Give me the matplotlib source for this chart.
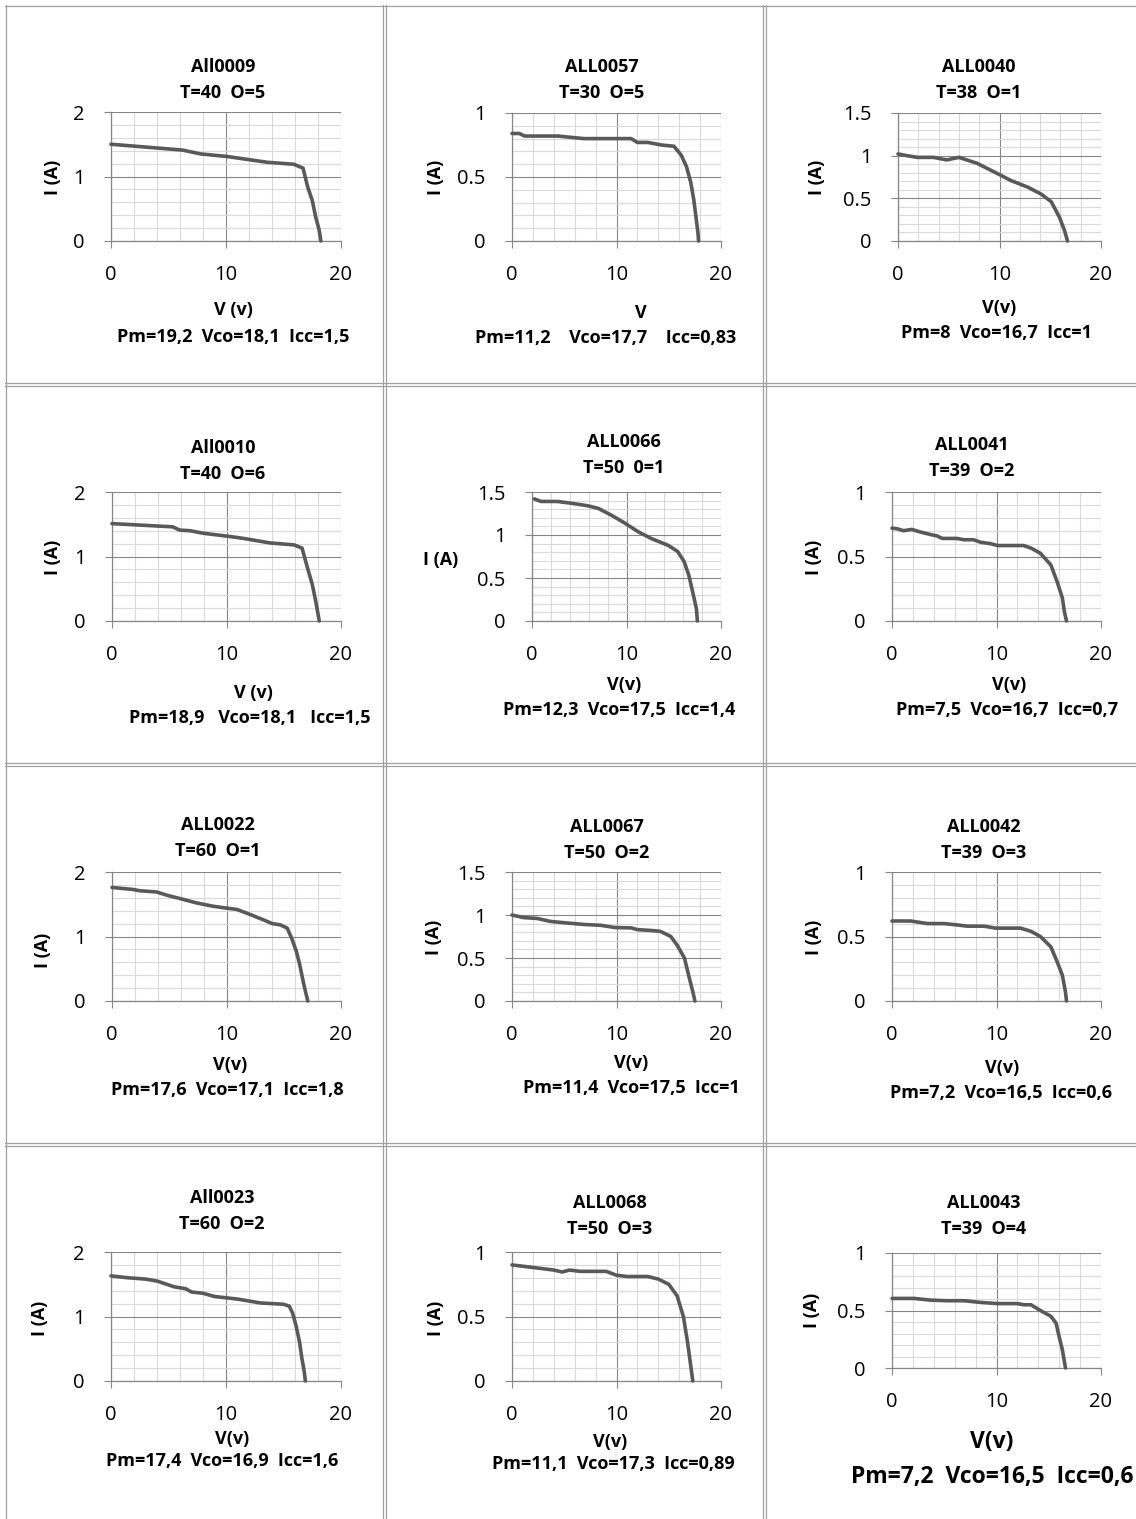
import matplotlib
matplotlib.use("Agg")
import matplotlib.pyplot as plt
from matplotlib.lines import Line2D
from matplotlib.ticker import MultipleLocator, FuncFormatter

plt.rcParams["font.family"] = ["Open Sans", "DejaVu Sans"]

W, H = 1136, 1519

# ---- I-V curves (V in volts, I in amperes) ----
v_all0009 = [0, 6.2, 7.8, 10.1, 13.6, 15.9, 16.7, 17.1, 17.5, 17.8, 18.1, 18.25]
i_all0009 = [1.50, 1.41, 1.35, 1.31, 1.22, 1.19, 1.13, 0.84, 0.63, 0.37, 0.17, 0.0]

v_all0057 = [0, 0.7, 1.2, 4.4, 5.6, 6.9, 10.1, 11.4, 12.0, 13.0, 14.3, 15.5, 16.2, 16.7, 17.1, 17.4, 17.6, 17.8, 17.85]
i_all0057 = [0.84, 0.84, 0.82, 0.82, 0.81, 0.80, 0.80, 0.80, 0.77, 0.77, 0.75, 0.74, 0.67, 0.58, 0.46, 0.32, 0.19, 0.06, 0.0]

v_all0040 = [0, 0.9, 1.9, 3.5, 4.8, 6.0, 7.8, 9.8, 11.1, 12.8, 14.1, 15.1, 15.9, 16.4, 16.7]
i_all0040 = [1.02, 1.00, 0.98, 0.98, 0.95, 0.98, 0.91, 0.79, 0.71, 0.63, 0.55, 0.46, 0.28, 0.125, 0.0]

v_all0010 = [0, 5.3, 5.9, 6.8, 8.0, 10.3, 11.5, 13.8, 15.9, 16.6, 17.0, 17.5, 17.8, 18.1]
i_all0010 = [1.51, 1.46, 1.41, 1.40, 1.36, 1.31, 1.28, 1.21, 1.18, 1.13, 0.87, 0.56, 0.30, 0.0]

v_all0066 = [0.25, 0.95, 2.7, 4.1, 5.9, 7.0, 8.4, 9.8, 11.2, 12.6, 14.4, 15.4, 16.1, 16.6, 17.0, 17.4, 17.5]
i_all0066 = [1.42, 1.39, 1.39, 1.37, 1.34, 1.31, 1.23, 1.14, 1.04, 0.96, 0.88, 0.81, 0.69, 0.53, 0.34, 0.14, 0.0]

v_all0041 = [0, 0.5, 1.1, 1.9, 2.7, 3.7, 4.3, 4.8, 6.2, 6.9, 7.8, 8.5, 9.4, 10.1, 12.6, 13.3, 14.2, 15.2, 15.8, 16.3, 16.5, 16.7]
i_all0041 = [0.72, 0.715, 0.70, 0.71, 0.69, 0.67, 0.66, 0.64, 0.64, 0.63, 0.63, 0.61, 0.60, 0.585, 0.585, 0.565, 0.525, 0.435, 0.305, 0.18, 0.07, 0.0]

v_all0022 = [0, 1.8, 2.4, 3.9, 4.8, 5.9, 7.4, 8.8, 10.0, 10.9, 11.8, 13.2, 14.0, 14.7, 15.3, 15.7, 16.1, 16.4, 16.7, 16.9, 17.1]
i_all0022 = [1.76, 1.73, 1.71, 1.69, 1.64, 1.59, 1.52, 1.47, 1.44, 1.42, 1.36, 1.26, 1.20, 1.18, 1.13, 0.97, 0.77, 0.56, 0.30, 0.145, 0.0]

v_all0067 = [0, 1.1, 2.4, 3.7, 5.0, 6.9, 8.5, 9.8, 11.4, 12.0, 13.3, 14.2, 15.2, 15.8, 16.5, 16.9, 17.3, 17.5]
i_all0067 = [1.00, 0.97, 0.96, 0.925, 0.91, 0.89, 0.88, 0.855, 0.85, 0.83, 0.82, 0.81, 0.75, 0.65, 0.50, 0.30, 0.11, 0.0]

v_all0042 = [0, 1.8, 3.4, 5.0, 6.2, 7.2, 8.8, 9.9, 12.3, 13.3, 14.2, 15.2, 15.8, 16.3, 16.6, 16.7]
i_all0042 = [0.62, 0.62, 0.60, 0.60, 0.59, 0.58, 0.58, 0.565, 0.565, 0.54, 0.50, 0.42, 0.305, 0.20, 0.07, 0.0]

v_all0023 = [0, 1.5, 3.0, 4.0, 5.5, 6.5, 7.0, 8.0, 9.0, 10.0, 11.0, 12.0, 13.0, 14.0, 15.0, 15.5, 15.8, 16.1, 16.4, 16.6, 16.8, 16.9]
i_all0023 = [1.63, 1.60, 1.58, 1.55, 1.46, 1.43, 1.38, 1.36, 1.31, 1.29, 1.27, 1.24, 1.21, 1.20, 1.19, 1.16, 1.05, 0.85, 0.60, 0.35, 0.15, 0.0]

v_all0068 = [0, 2.0, 4.0, 4.8, 5.5, 6.5, 9.0, 10.0, 11.0, 13.0, 14.0, 15.0, 15.8, 16.4, 16.8, 17.1, 17.3]
i_all0068 = [0.90, 0.88, 0.86, 0.845, 0.86, 0.85, 0.85, 0.82, 0.81, 0.81, 0.79, 0.75, 0.66, 0.50, 0.30, 0.12, 0.0]

v_all0043 = [0, 2.1, 3.7, 5.3, 6.9, 8.5, 10.1, 12.0, 12.6, 13.3, 14.2, 15.2, 15.7, 16.0, 16.3, 16.6]
i_all0043 = [0.605, 0.605, 0.59, 0.585, 0.585, 0.57, 0.56, 0.56, 0.55, 0.55, 0.50, 0.45, 0.39, 0.27, 0.16, 0.0]

# ---- per-panel text ----
names = ["All0009", "ALL0057", "ALL0040",
         "All0010", "ALL0066", "ALL0041",
         "ALL0022", "ALL0067", "ALL0042",
         "All0023", "ALL0068", "ALL0043"]
conditions = ["T=40  O=5", "T=30  O=5", "T=38  O=1",
              "T=40  O=6", "T=50  0=1", "T=39  O=2",
              "T=60  O=1", "T=50  O=2", "T=39  O=3",
              "T=60  O=2", "T=50  O=3", "T=39  O=4"]
xlabels = ["V (v)", "V", "V(v)",
           "V (v)", "V(v)", "V(v)",
           "V(v)", "V(v)", "V(v)",
           "V(v)", "V(v)", "V(v)"]
summaries = ["Pm=19,2  Vco=18,1  Icc=1,5", "Pm=11,2    Vco=17,7    Icc=0,83", "Pm=8  Vco=16,7  Icc=1",
             "Pm=18,9   Vco=18,1   Icc=1,5", "Pm=12,3  Vco=17,5  Icc=1,4", "Pm=7,5  Vco=16,7  Icc=0,7",
             "Pm=17,6  Vco=17,1  Icc=1,8", "Pm=11,4  Vco=17,5  Icc=1", "Pm=7,2  Vco=16,5  Icc=0,6",
             "Pm=17,4  Vco=16,9  Icc=1,6", "Pm=11,1  Vco=17,3  Icc=0,89", "Pm=7,2  Vco=16,5  Icc=0,6"]
y_max = [2, 1, 1.5,
         2, 1.5, 1,
         2, 1.5, 1,
         2, 1, 1]

curves = [(v_all0009, i_all0009), (v_all0057, i_all0057), (v_all0040, i_all0040),
          (v_all0010, i_all0010), (v_all0066, i_all0066), (v_all0041, i_all0041),
          (v_all0022, i_all0022), (v_all0067, i_all0067), (v_all0042, i_all0042),
          (v_all0023, i_all0023), (v_all0068, i_all0068), (v_all0043, i_all0043)]

# layout in pixels: plot box (x_left, x_right, y_top, y_bottom)
boxes = [(111, 341, 112, 241), (512, 721, 113, 241), (898, 1101, 113, 241),
         (112, 341, 492, 621), (532, 721, 492, 621), (892, 1101, 492, 621),
         (112, 341, 872, 1001), (512, 721, 872, 1001), (892, 1101, 872, 1001),
         (111, 341, 1252, 1381), (512, 721, 1252, 1381), (892, 1101, 1253, 1368)]
title_xy = [(223, 67), (602, 67), (979, 67),
            (223, 448), (624, 442), (972, 445),
            (218, 825), (607, 827), (984, 827),
            (222, 1198), (610, 1203), (984, 1203)]
ylabel_xy = [(53, 177), (436, 177), (817, 177),
             (53, 557), (441, 560), (814, 557),
             (43, 950), (434, 937), (814, 937),
             (40, 1318), (436, 1318), (812, 1310)]
xlabel_xy = [(233, 310), (641, 313), (999, 308),
             (253, 693), (624, 685), (1009, 685),
             (230, 1065), (631, 1063), (1002, 1068),
             (232, 1439), (610, 1442), (992, 1442)]
summary_xy = [(233, 337), (606, 338), (996, 333),
              (250, 718), (619, 710), (1007, 710),
              (227, 1090), (631, 1088), (1001, 1093),
              (222, 1461), (613, 1464), (992, 1477)]

LINE = "#595959"
MAJOR = "#868686"
MINOR = "#d9d9d9"
BORDER = "#a0a0a0"

fig = plt.figure(figsize=(W / 100, H / 100), dpi=100)


def fx(px):
    return px / W


def fy(py):
    return 1 - py / H


# table borders (double lines between cells)
for x in [6, 383, 386, 763, 766]:
    fig.add_artist(Line2D([fx(x), fx(x)], [fy(5), fy(H)], color=BORDER, lw=0.9))
for y in [6, 383, 386, 763, 766, 1143, 1146]:
    fig.add_artist(Line2D([fx(5), fx(W)], [fy(y), fy(y)], color=BORDER, lw=0.9))

for k in range(12):
    x0, x1, yt, yb = boxes[k]
    ax = fig.add_axes([fx(x0), fy(yb), (x1 - x0) / W, (yb - yt) / H])
    v, i = curves[k]
    ax.plot(v, i, color=LINE, lw=2.6, solid_capstyle="round", solid_joinstyle="round",
            clip_on=False, zorder=3)
    ax.set_xlim(0, 20)
    ax.set_ylim(0, y_max[k])
    ax.xaxis.set_major_locator(MultipleLocator(10))
    ax.xaxis.set_minor_locator(MultipleLocator(2))
    if y_max[k] == 2:
        ax.yaxis.set_major_locator(MultipleLocator(1))
        ax.yaxis.set_minor_locator(MultipleLocator(0.2))
    else:
        ax.yaxis.set_major_locator(MultipleLocator(0.5))
        ax.yaxis.set_minor_locator(MultipleLocator(0.1))
    ax.yaxis.set_major_formatter(FuncFormatter(lambda val, pos: f"{val:g}"))
    ax.grid(which="major", color=MAJOR, lw=0.8)
    ax.grid(which="minor", color=MINOR, lw=0.8)
    ax.set_axisbelow(True)
    for side in ["top", "right"]:
        ax.spines[side].set_visible(False)
    for side in ["left", "bottom"]:
        ax.spines[side].set_color(MAJOR)
        ax.spines[side].set_linewidth(0.9)
    ax.tick_params(which="major", length=5, width=0.8, color=MAJOR, labelsize=14.5)
    ax.tick_params(axis="x", which="major", pad=12)
    ax.tick_params(axis="y", which="major", pad=14)
    ax.tick_params(which="minor", length=0)

    big = k == 11
    tx, ty = title_xy[k]
    fig.text(fx(tx), fy(ty), names[k], ha="center", va="center", fontsize=13, fontweight="bold")
    fig.text(fx(tx), fy(ty + 26), conditions[k], ha="center", va="center", fontsize=13, fontweight="bold")
    lx, ly = ylabel_xy[k]
    if k == 4:
        fig.text(fx(lx), fy(ly), "I (A)", ha="center", va="center", fontsize=13, fontweight="bold")
    else:
        fig.text(fx(lx), fy(ly), "I (A)", ha="center", va="center", rotation=90,
                 fontsize=13, fontweight="bold")
    xx, xy = xlabel_xy[k]
    fig.text(fx(xx), fy(xy), xlabels[k], ha="center", va="center",
             fontsize=16.5 if big else 13, fontweight="bold")
    sx, sy = summary_xy[k]
    fig.text(fx(sx), fy(sy), summaries[k], ha="center", va="center",
             fontsize=16.5 if big else 13, fontweight="bold")

fig.savefig("out.png", dpi=100, facecolor="white")
